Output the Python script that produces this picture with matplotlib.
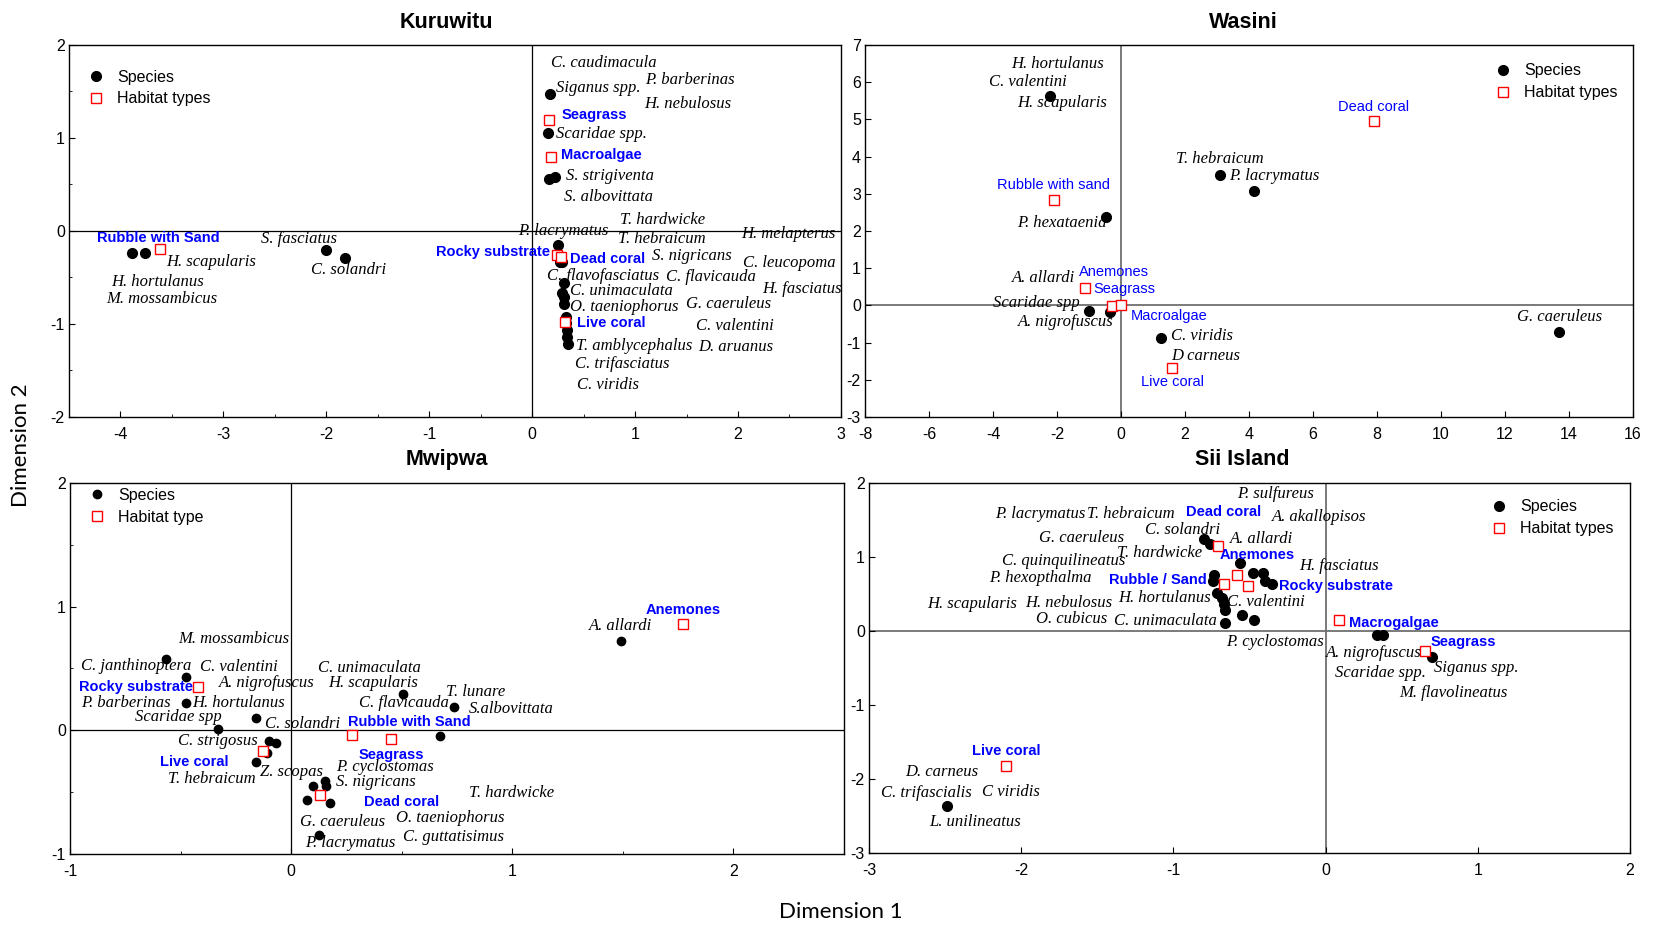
"""Correspondence analysis biplots: reef fish species and habitat types at four sites."""
import matplotlib
matplotlib.use("Agg")
import matplotlib.pyplot as plt
from matplotlib.lines import Line2D
from matplotlib.ticker import MultipleLocator

plt.rcParams["axes.unicode_minus"] = False

SERIF = "Liberation Serif"
SANS = "Liberation Sans"
BLUE = "#0000ff"
RED = "#ff0000"

# ---------------------------------------------------------------- Kuruwitu
KURU_SPECIES_X = [-3.89, -3.76, -2.00, -1.82, 0.17, 0.15, 0.165, 0.22, 0.25,
                  0.27, 0.29, 0.31, 0.29, 0.31, 0.31, 0.33, 0.33, 0.34, 0.34,
                  0.35]
KURU_SPECIES_Y = [-0.24, -0.24, -0.20, -0.29, 1.47, 1.05, 0.56, 0.58, -0.15,
                  -0.33, -0.33, -0.56, -0.67, -0.71, -0.78, -0.92, -0.99,
                  -1.06, -1.14, -1.22]
KURU_HABITAT_X = [-3.62, 0.16, 0.18, 0.24, 0.28, 0.32]
KURU_HABITAT_Y = [-0.19, 1.19, 0.79, -0.26, -0.28, -0.98]

# ------------------------------------------------------------------ Wasini
WASINI_SPECIES_X = [-2.21, 3.08, 4.15, -0.48, -1.01, -0.34, 1.25, 13.70]
WASINI_SPECIES_Y = [5.63, 3.51, 3.08, 2.37, -0.15, -0.17, -0.89, -0.72]
WASINI_HABITAT_X = [-2.10, -1.13, -0.27, 0.0, 1.60, 7.90]
WASINI_HABITAT_Y = [2.83, 0.48, -0.02, 0.0, -1.67, 4.96]

# ------------------------------------------------------------------ Mwipwa
MWIPWA_SPECIES_X = [-0.566, -0.475, -0.475, -0.157, -0.33, -0.10, -0.07,
                    -0.11, -0.157, 0.508, 0.738, 0.673, 0.098, 0.154, 0.157,
                    0.074, 0.176, 0.125, 1.49]
MWIPWA_SPECIES_Y = [0.58, 0.43, 0.22, 0.10, 0.01, -0.09, -0.10, -0.18, -0.26,
                    0.29, 0.19, -0.045, -0.45, -0.41, -0.45, -0.56, -0.59,
                    -0.85, 0.72]
MWIPWA_HABITAT_X = [-0.42, -0.127, 0.276, 0.452, 0.131, 1.774]
MWIPWA_HABITAT_Y = [0.35, -0.17, -0.04, -0.07, -0.52, 0.86]

# -------------------------------------------------------------- Sii Island
SII_SPECIES_X = [-0.80, -0.76, -0.56, -0.73, -0.74, -0.475, -0.41, -0.40,
                 -0.35, -0.715, -0.68, -0.67, -0.66, -0.66, -0.55, -0.47,
                 0.335, 0.38, 0.70, -2.49]
SII_SPECIES_Y = [1.24, 1.18, 0.92, 0.76, 0.67, 0.79, 0.78, 0.68, 0.635, 0.51,
                 0.44, 0.37, 0.29, 0.11, 0.22, 0.15, -0.06, -0.05, -0.35,
                 -2.37]
SII_HABITAT_X = [-0.71, -0.67, -0.58, -0.51, 0.09, 0.65, -2.10]
SII_HABITAT_Y = [1.15, 0.64, 0.76, 0.61, 0.145, -0.27, -1.82]

# label text and where it sits (data coordinates, centre of the text)
KURU_SPECIES_LABELS = [
    ("H. scapularis", -3.12, -0.33), ("H. hortulanus", -3.64, -0.55),
    ("M. mossambicus", -3.60, -0.73), ("S. fasciatus", -2.27, -0.09),
    ("C. solandri", -1.78, -0.42), ("P. lacrymatus", 0.30, 0.0),
    ("C. caudimacula", 0.70, 1.81), ("Siganus spp.", 0.64, 1.54),
    ("P. barberinas", 1.53, 1.62), ("H. nebulosus", 1.51, 1.37),
    ("Scaridae spp.", 0.67, 1.04), ("S. strigiventa", 0.76, 0.59),
    ("S. albovittata", 0.74, 0.36), ("T. hardwicke", 1.27, 0.12),
    ("T. hebraicum", 1.26, -0.09), ("H. melapterus", 2.49, -0.03),
    ("S. nigricans", 1.55, -0.27), ("C. leucopoma", 2.50, -0.34),
    ("C. flavofasciatus", 0.69, -0.48), ("C. flavicauda", 1.74, -0.50),
    ("H. fasciatus", 2.62, -0.62), ("C. unimaculata", 0.87, -0.65),
    ("O. taeniophorus", 0.89, -0.82), ("G. caeruleus", 1.91, -0.79),
    ("C. valentini", 1.97, -1.02), ("T. amblycephalus", 0.99, -1.24),
    ("D. aruanus", 1.98, -1.25), ("C. trifasciatus", 0.88, -1.43),
    ("C. viridis", 0.74, -1.66),
]
KURU_HABITAT_LABELS = [
    ("Rubble with Sand", -3.63, -0.08), ("Seagrass", 0.60, 1.25),
    ("Macroalgae", 0.67, 0.82), ("Rocky substrate", -0.38, -0.23),
    ("Dead coral", 0.73, -0.30), ("Live coral", 0.77, -0.99),
]
WASINI_SPECIES_LABELS = [
    ("H. hortulanus", -1.97, 6.48), ("C. valentini", -2.90, 6.0),
    ("H. scapularis", -1.83, 5.43), ("T. hebraicum", 3.10, 3.93),
    ("P. lacrymatus", 4.79, 3.49), ("P. hexataenia", -1.85, 2.21),
    ("A. allardi", -2.41, 0.73), ("Scaridae spp", -2.63, 0.07),
    ("A. nigrofuscus", -1.74, -0.46), ("C. viridis", 2.53, -0.82),
    ("D carneus", 2.66, -1.35), ("G. caeruleus", 13.72, -0.30),
]
WASINI_HABITAT_LABELS = [
    ("Rubble with sand", -2.10, 3.23), ("Anemones", -0.22, 0.89),
    ("Seagrass", 0.09, 0.43), ("Macroalgae", 1.51, -0.28),
    ("Live coral", 1.61, -2.05), ("Dead coral", 7.88, 5.34),
]
MWIPWA_SPECIES_LABELS = [
    ("M. mossambicus", -0.26, 0.74), ("C. janthinoptera", -0.70, 0.52),
    ("C. valentini", -0.235, 0.51), ("A. nigrofuscus", -0.11, 0.38),
    ("P. barberinas", -0.745, 0.22), ("H. hortulanus", -0.24, 0.22),
    ("Scaridae spp", -0.51, 0.11), ("C. solandri", 0.05, 0.05),
    ("C. strigosus", -0.33, -0.09), ("T. hebraicum", -0.36, -0.39),
    ("Z. scopas", 0.0, -0.34), ("C. unimaculata", 0.354, 0.50),
    ("H. scapularis", 0.373, 0.38), ("C. flavicauda", 0.509, 0.22),
    ("P. cyclostomas", 0.425, -0.30), ("S. nigricans", 0.385, -0.42),
    ("G. caeruleus", 0.233, -0.745), ("P. lacrymatus", 0.267, -0.91),
    ("O. taeniophorus", 0.72, -0.71), ("C. guttatisimus", 0.733, -0.86),
    ("T. lunare", 0.834, 0.31), ("S.albovittata", 0.995, 0.17),
    ("T. hardwicke", 0.995, -0.51), ("A. allardi", 1.49, 0.845),
]
MWIPWA_HABITAT_LABELS = [
    ("Rocky substrate", -0.70, 0.35), ("Live coral", -0.44, -0.26),
    ("Rubble with Sand", 0.533, 0.07), ("Seagrass", 0.452, -0.20),
    ("Dead coral", 0.50, -0.58), ("Anemones", 1.775, 0.97),
]
SII_SPECIES_LABELS = [
    ("P. lacrymatus", -1.875, 1.58), ("T. hebraicum", -1.28, 1.58),
    ("P. sulfureus", -0.33, 1.85), ("A. akallopisos", -0.045, 1.545),
    ("C. solandri", -0.94, 1.37), ("G. caeruleus", -1.60, 1.26),
    ("A. allardi", -0.42, 1.24), ("T. hardwicke", -1.09, 1.06),
    ("C. quinquilineatus", -1.72, 0.94), ("P. hexopthalma", -1.875, 0.71),
    ("H. fasciatus", 0.09, 0.88), ("H. scapularis", -2.32, 0.37),
    ("H. nebulosus", -1.69, 0.38), ("H. hortulanus", -1.06, 0.44),
    ("C. valentini", -0.39, 0.39), ("O. cubicus", -1.67, 0.16),
    ("C. unimaculata", -1.055, 0.13), ("P. cyclostomas", -0.33, -0.15),
    ("A. nigrofuscus", 0.315, -0.30), ("Scaridae spp.", 0.36, -0.57),
    ("Siganus spp.", 0.99, -0.50), ("M. flavolineatus", 0.84, -0.84),
    ("D. carneus", -2.52, -1.90), ("C. trifascialis", -2.625, -2.19),
    ("C viridis", -2.07, -2.18), ("L. unilineatus", -2.30, -2.58),
]
SII_HABITAT_LABELS = [
    ("Dead coral", -0.67, 1.61), ("Anemones", -0.45, 1.03),
    ("Rubble / Sand", -1.10, 0.69), ("Rocky substrate", 0.07, 0.61),
    ("Macrogalgae", 0.45, 0.11), ("Seagrass", 0.905, -0.145),
    ("Live coral", -2.10, -1.62),
]

# layout: axes rect in figure fraction, limits, tick steps, legend placement
PANELS = [
    dict(title="Kuruwitu", title_xy=(446, 22), rect=(0.0416, 0.5492, 0.4653, 0.4022),
         xlim=(-4.5, 3), ylim=(-2, 2), xmaj=1, xmin=0.5, ymaj=1, ymin=0.5,
         sx=KURU_SPECIES_X, sy=KURU_SPECIES_Y, hx=KURU_HABITAT_X, hy=KURU_HABITAT_Y,
         slabels=KURU_SPECIES_LABELS, hlabels=KURU_HABITAT_LABELS,
         legend=("Species", "Habitat types"), legend_xy=(0.025, 0.884),
         bold=True, zero_color="black", zero_lw=0.9, dot=7),
    dict(title="Wasini", title_xy=(1243, 22), rect=(0.5214, 0.5492, 0.4629, 0.4022),
         xlim=(-8, 16), ylim=(-3, 7), xmaj=2, xmin=None, ymaj=1, ymin=None,
         sx=WASINI_SPECIES_X, sy=WASINI_SPECIES_Y, hx=WASINI_HABITAT_X, hy=WASINI_HABITAT_Y,
         slabels=WASINI_SPECIES_LABELS, hlabels=WASINI_HABITAT_LABELS,
         legend=("Species", "Habitat types"), legend_xy=(0.821, 0.901),
         bold=False, zero_color="#707070", zero_lw=1.3, dot=7),
    dict(title="Mwipwa", title_xy=(447, 459), rect=(0.0422, 0.0768, 0.4665, 0.4010),
         xlim=(-1, 2.5), ylim=(-1, 2), xmaj=1, xmin=0.5, ymaj=1, ymin=0.5,
         sx=MWIPWA_SPECIES_X, sy=MWIPWA_SPECIES_Y, hx=MWIPWA_HABITAT_X, hy=MWIPWA_HABITAT_Y,
         slabels=MWIPWA_SPECIES_LABELS, hlabels=MWIPWA_HABITAT_LABELS,
         legend=("Species", "Habitat type"), legend_xy=(0.025, 0.937),
         bold=True, zero_color="black", zero_lw=0.9, dot=6),
    dict(title="Sii Island", title_xy=(1242, 459), rect=(0.5238, 0.0778, 0.4587, 0.4000),
         xlim=(-3, 2), ylim=(-3, 2), xmaj=1, xmin=None, ymaj=1, ymin=None,
         sx=SII_SPECIES_X, sy=SII_SPECIES_Y, hx=SII_HABITAT_X, hy=SII_HABITAT_Y,
         slabels=SII_SPECIES_LABELS, hlabels=SII_HABITAT_LABELS,
         legend=("Species", "Habitat types"), legend_xy=(0.818, 0.906),
         bold=True, zero_color="#707070", zero_lw=1.3, dot=7),
]

FIG_W, FIG_H = 1659, 925


def draw_panel(fig, cfg):
    """Draw one biplot with species dots, habitat squares and their labels."""
    ax = fig.add_axes(cfg["rect"])
    ax.set_xlim(*cfg["xlim"])
    ax.set_ylim(*cfg["ylim"])
    ax.xaxis.set_major_locator(MultipleLocator(cfg["xmaj"]))
    ax.yaxis.set_major_locator(MultipleLocator(cfg["ymaj"]))
    if cfg["xmin"]:
        ax.xaxis.set_minor_locator(MultipleLocator(cfg["xmin"]))
    if cfg["ymin"]:
        ax.yaxis.set_minor_locator(MultipleLocator(cfg["ymin"]))
    ax.tick_params(which="both", direction="in", labelsize=11.5)
    ax.tick_params(axis="x", pad=7)
    ax.tick_params(axis="y", pad=3)
    ax.tick_params(which="major", length=4)
    ax.tick_params(which="minor", length=2.5)
    for label in ax.get_xticklabels() + ax.get_yticklabels():
        label.set_fontfamily(SANS)
    for spine in ax.spines.values():
        spine.set_linewidth(1.0)

    ax.axhline(0, color=cfg["zero_color"], lw=cfg["zero_lw"], zorder=1)
    ax.axvline(0, color=cfg["zero_color"], lw=cfg["zero_lw"], zorder=1)

    ax.plot(cfg["sx"], cfg["sy"], "o", color="black", ms=cfg["dot"],
            ls="none", zorder=3)
    ax.plot(cfg["hx"], cfg["hy"], "s", mfc="white", mec=RED, mew=1.0,
            ms=6.5, ls="none", zorder=4)

    for name, x, y in cfg["slabels"]:
        ax.text(x, y, name, ha="center", va="center", fontsize=12,
                fontfamily=SERIF, style="italic", zorder=5)
    weight = "bold" if cfg["bold"] else "normal"
    for name, x, y in cfg["hlabels"]:
        ax.text(x, y, name, ha="center", va="center", fontsize=10.5,
                fontfamily=SANS, fontweight=weight, color=BLUE, zorder=5)

    handles = [
        Line2D([], [], marker="o", color="black", ls="none", ms=cfg["dot"]),
        Line2D([], [], marker="s", mfc="white", mec=RED, mew=1.0, ls="none",
               ms=6.5),
    ]
    ax.legend(handles, cfg["legend"], loc="center left",
              bbox_to_anchor=cfg["legend_xy"], frameon=False, borderpad=0,
              borderaxespad=0, handlelength=1.0, handletextpad=0.8,
              labelspacing=0.42, prop={"family": SANS, "size": 11.5})

    tx, ty = cfg["title_xy"]
    fig.text(tx / FIG_W, 1 - ty / FIG_H, cfg["title"], ha="center",
             va="center", fontsize=15.5, fontweight="bold", fontfamily=SANS)
    return ax


fig = plt.figure(figsize=(FIG_W / 100, FIG_H / 100), dpi=100)
for panel in PANELS:
    draw_panel(fig, panel)

fig.text(21 / FIG_W, 1 - 445 / FIG_H, "Dimension 2", rotation=90,
         ha="center", va="center", fontsize=16, fontfamily="Lato")
fig.text(841 / FIG_W, 1 - 912 / FIG_H, "Dimension 1", ha="center",
         va="center", fontsize=16, fontfamily="Lato")

fig.savefig("out.png", dpi=100, facecolor="white")
